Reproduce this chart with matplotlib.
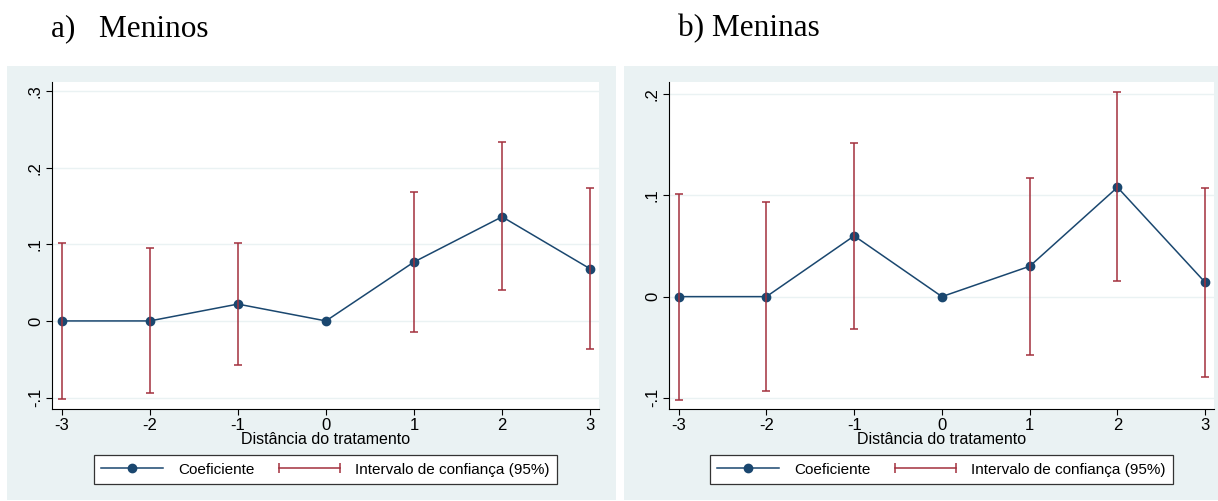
import matplotlib.pyplot as plt
import numpy as np
from matplotlib.lines import Line2D
from matplotlib.legend_handler import HandlerLine2D
from matplotlib.patches import Rectangle

plt.rcParams['font.family'] = ['Liberation Sans', 'DejaVu Sans']

# Data
dist = [-3, -2, -1, 0, 1, 2, 3]

meninos_coef = [0.0, 0.0, 0.022, 0.0, 0.077, 0.136, 0.068]
meninos_lo = [-0.102, -0.094, -0.057, np.nan, -0.015, 0.040, -0.037]
meninos_hi = [0.102, 0.095, 0.102, np.nan, 0.168, 0.233, 0.174]

meninas_coef = [0.0, 0.0, 0.060, 0.0, 0.030, 0.108, 0.014]
meninas_lo = [-0.102, -0.093, -0.032, np.nan, -0.058, 0.015, -0.079]
meninas_hi = [0.101, 0.093, 0.152, np.nan, 0.117, 0.202, 0.107]

titles = ['a)   Meninos', 'b) Meninas']
yticks_list = [[-0.1, 0, 0.1, 0.2, 0.3], [-0.1, 0, 0.1, 0.2]]
ytick_labels_list = [['-.1', '0', '.1', '.2', '.3'], ['-.1', '0', '.1', '.2']]
ylims = [(-0.115, 0.312), (-0.111, 0.212)]

navy = '#1a476f'
maroon = '#a3303d'
bg = '#eaf2f3'

W, H = 1218, 501
fig = plt.figure(figsize=(W / 100, H / 100), dpi=100)


def fx(px):
    return px / W


def fy(py):
    return 1 - py / H


panels = [
    dict(bg=(7, 66, 616, 500), ax=(52, 82, 599, 409), title_x=51),
    dict(bg=(624, 66, 1218, 500), ax=(669, 82, 1214, 409), title_x=678),
]
data = [
    (meninos_coef, meninos_lo, meninos_hi),
    (meninas_coef, meninas_lo, meninas_hi),
]

for i, p in enumerate(panels):
    x0, y0, x1, y1 = p['bg']
    fig.patches.append(Rectangle((fx(x0), fy(y1)), fx(x1 - x0), (y1 - y0) / H,
                                 transform=fig.transFigure, facecolor=bg,
                                 edgecolor='none', zorder=-1))
    fig.text(fx(p['title_x']), fy(29), titles[i], family='Liberation Serif',
             fontsize=22.5, va='center', ha='left')

    a0, b0, a1, b1 = p['ax']
    ax = fig.add_axes([fx(a0), fy(b1), fx(a1 - a0), (b1 - b0) / H])
    ax.set_facecolor('white')
    coef, lo, hi = data[i]
    coef = np.array(coef)
    lo = np.array(lo)
    hi = np.array(hi)
    mid = (lo + hi) / 2
    half = (hi - lo) / 2

    ax.plot(dist, coef, color=navy, lw=1.1, marker='o', ms=6, zorder=3)
    ax.errorbar(dist, mid, yerr=half, fmt='none', ecolor=maroon, elinewidth=1.1,
                capsize=3, capthick=1.1, zorder=4)

    ax.set_xlim(-3.11, 3.1)
    ax.set_ylim(*ylims[i])
    ax.set_xticks(dist)
    ax.set_xticklabels([str(d) for d in dist])
    ax.set_yticks(yticks_list[i])
    ax.set_yticklabels(ytick_labels_list[i], rotation=90, va='center')
    ax.grid(axis='y', color=bg, lw=1.0)
    ax.set_axisbelow(True)
    for s in ['top', 'right']:
        ax.spines[s].set_visible(False)
    ax.spines['left'].set_color('black')
    ax.spines['bottom'].set_color('black')
    ax.spines['left'].set_linewidth(0.8)
    ax.spines['bottom'].set_linewidth(0.8)
    ax.tick_params(axis='both', direction='out', length=4.5, width=0.8,
                   labelsize=12, pad=2)
    ax.set_xlabel('Distância do tratamento', fontsize=11.5, labelpad=-1)

    h1 = Line2D([], [], color=navy, lw=1.1, marker='o', ms=6)
    h2 = Line2D([], [], color=maroon, lw=1.1, marker='|', ms=7, mew=1.1)
    cx = (a0 + a1) / 2
    leg = fig.legend([h1, h2], ['Coeficiente', 'Intervalo de confiança (95%)'],
                     loc='upper center', bbox_to_anchor=(fx(cx), fy(455)),
                     ncol=2, fontsize=11, frameon=True, fancybox=False,
                     edgecolor='#333333', framealpha=1, handlelength=4.0,
                     handletextpad=1.0, columnspacing=1.6, borderpad=0.5,
                     borderaxespad=0,
                     handler_map={h1: HandlerLine2D(numpoints=1),
                                  h2: HandlerLine2D(numpoints=2, marker_pad=0)})
    leg.get_frame().set_linewidth(0.9)

fig.savefig('out.png', dpi=100)
